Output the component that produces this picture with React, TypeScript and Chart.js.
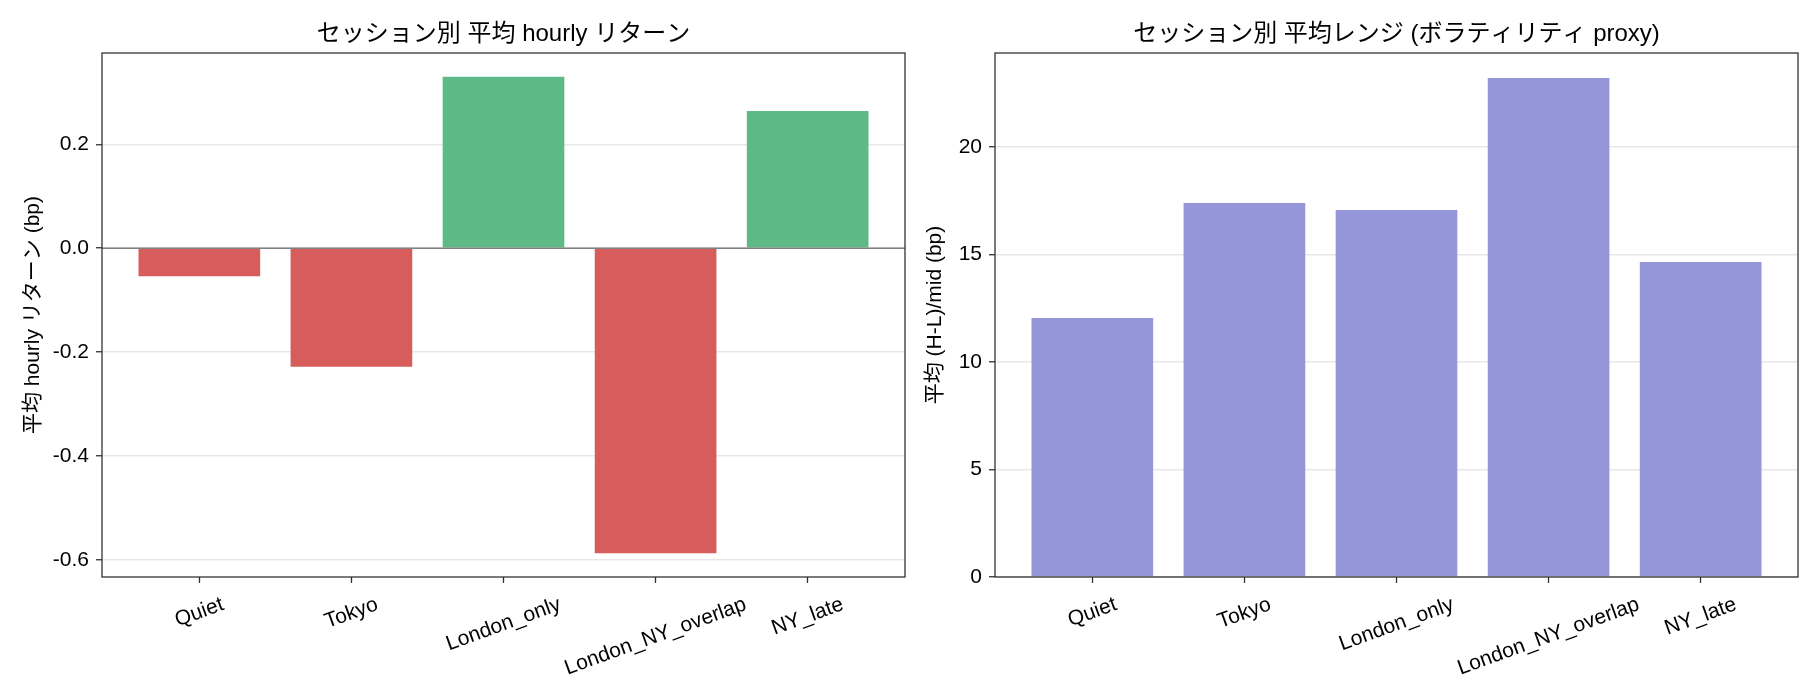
import React, { useEffect, useRef } from "react";
import { Chart, registerables } from "chart.js";

Chart.register(...registerables);

const categories = ["Quiet", "Tokyo", "London_only", "London_NY_overlap", "NY_late"];
const meanReturns = [-0.054, -0.228, 0.33, -0.587, 0.264];
const meanRanges = [12.05, 17.4, 17.07, 23.21, 14.65];
const returnTicks = [-0.6, -0.4, -0.2, 0.0, 0.2];
const rangeTicks = [0, 5, 10, 15, 20];
const titleLeft = "セッション別 平均 hourly リターン";
const titleRight = "セッション別 平均レンジ (ボラティリティ proxy)";
const ylabelLeft = "平均 hourly リターン (bp)";
const ylabelRight = "平均 (H-L)/mid (bp)";

const FONT = '"Liberation Sans", "Noto Sans CJK JP", sans-serif';
const POS_COLOR = "#5dba86";
const NEG_COLOR = "#d75d5d";
const RANGE_COLOR = "#9595da";
const TICK_FS = 21;

function makeDecor(title: string, zeroLine: boolean) {
  return {
    id: "decor",
    afterDraw(chart: any) {
      const { ctx, chartArea: a } = chart;
      ctx.save();
      if (zeroLine) {
        const y = chart.scales.y.getPixelForValue(0);
        ctx.strokeStyle = "#808080";
        ctx.lineWidth = 1.6;
        ctx.beginPath();
        ctx.moveTo(a.left, y);
        ctx.lineTo(a.right, y);
        ctx.stroke();
      }
      ctx.strokeStyle = "#333333";
      ctx.lineWidth = 1.3;
      ctx.strokeRect(a.left, a.top, a.right - a.left, a.bottom - a.top);

      ctx.fillStyle = "#000000";
      ctx.font = `24px ${FONT}`;
      ctx.textAlign = "center";
      ctx.textBaseline = "middle";
      ctx.fillText(title, (a.left + a.right) / 2, 34);

      const xs = chart.scales.x;
      const fs = TICK_FS;
      ctx.font = `${fs}px ${FONT}`;
      const th = (20 * Math.PI) / 180;
      categories.forEach((c, i) => {
        const w = ctx.measureText(c).width;
        const bh = w * Math.sin(th) + fs * Math.cos(th);
        const cx = xs.getPixelForValue(i);
        const cy = a.bottom + 6 + 11 + bh / 2;
        ctx.save();
        ctx.translate(cx, cy);
        ctx.rotate(-th);
        ctx.fillText(c, 0, 0);
        ctx.restore();
      });
      ctx.restore();
    },
  };
}

function makeConfig(
  values: number[],
  colors: string[],
  yMin: number,
  yMax: number,
  yTicks: number[],
  fmt: (v: number) => string,
  title: string,
  ylabel: string,
  yAxisWidth: number,
  padRight: number,
  titlePad: number,
  zero: boolean
): any {
  const n = categories.length;
  const xMargin = (n - 1 + 0.8) * 0.05;
  return {
    type: "bar",
    data: {
      datasets: [
        {
          data: values.map((v, i) => ({ x: i, y: v })),
          backgroundColor: colors,
          borderWidth: 0,
          barPercentage: 1,
          categoryPercentage: 0.8,
        },
      ],
    },
    options: {
      animation: false,
      responsive: false,
      layout: { padding: { left: 0, right: padRight, top: 53, bottom: 0 } },
      plugins: {
        legend: { display: false },
        tooltip: { enabled: false },
        title: { display: false },
      },
      scales: {
        x: {
          type: "linear",
          offset: false,
          min: -0.4 - xMargin,
          max: n - 1 + 0.4 + xMargin,
          afterBuildTicks: (s: any) => {
            s.ticks = categories.map((_, i) => ({ value: i }));
          },
          afterFit: (s: any) => {
            s.height = 123;
          },
          ticks: { display: false },
          grid: {
            offset: false,
            drawOnChartArea: false,
            drawTicks: true,
            tickLength: 6,
            tickColor: "#333333",
            tickWidth: 1.3,
          },
          border: { display: false },
        },
        y: {
          type: "linear",
          min: yMin,
          max: yMax,
          z: 1,
          afterBuildTicks: (s: any) => {
            s.ticks = yTicks.map((v) => ({ value: v }));
          },
          afterFit: (s: any) => {
            s.width = yAxisWidth;
          },
          ticks: {
            callback: (v: number) => fmt(v),
            font: { size: TICK_FS, family: FONT },
            color: "#000000",
            padding: 7,
          },
          grid: {
            color: "rgba(176,176,176,0.3)",
            lineWidth: 1.5,
            drawTicks: true,
            tickLength: 6,
            tickColor: "#333333",
            tickWidth: 1.3,
          },
          border: { display: false },
          title: {
            display: true,
            text: ylabel,
            font: { size: 21, family: FONT },
            color: "#000000",
            padding: { top: titlePad, bottom: 0 },
          },
        },
      },
    },
    plugins: [makeDecor(title, zero)],
  };
}

function ChartCanvas({ config }: { config: () => any }) {
  const ref = useRef<HTMLCanvasElement | null>(null);
  useEffect(() => {
    if (!ref.current) return;
    const chart = new Chart(ref.current, config());
    return () => chart.destroy();
  }, []);
  return <canvas ref={ref} width={910} height={700} style={{ display: "block", width: 910, height: 700 }} />;
}

export default function App() {
  const retMin = Math.min(0, ...meanReturns);
  const retMax = Math.max(0, ...meanReturns);
  const retPad = (retMax - retMin) * 0.05;
  const rngMax = Math.max(...meanRanges) * 1.05;

  const leftConfig = () =>
    makeConfig(
      meanReturns,
      meanReturns.map((v) => (v >= 0 ? POS_COLOR : NEG_COLOR)),
      retMin - retPad,
      retMax + retPad,
      returnTicks,
      (v) => v.toFixed(1),
      titleLeft,
      ylabelLeft,
      102,
      5,
      21,
      true
    );
  const rightConfig = () =>
    makeConfig(
      meanRanges,
      meanRanges.map(() => RANGE_COLOR),
      0,
      rngMax,
      rangeTicks,
      (v) => String(v),
      titleRight,
      ylabelRight,
      85,
      22,
      13,
      false
    );

  return (
    <div style={{ position: "absolute", left: 0, top: 0, width: 1820, height: 700, background: "#fff", display: "flex" }}>
      <ChartCanvas config={leftConfig} />
      <ChartCanvas config={rightConfig} />
    </div>
  );
}
